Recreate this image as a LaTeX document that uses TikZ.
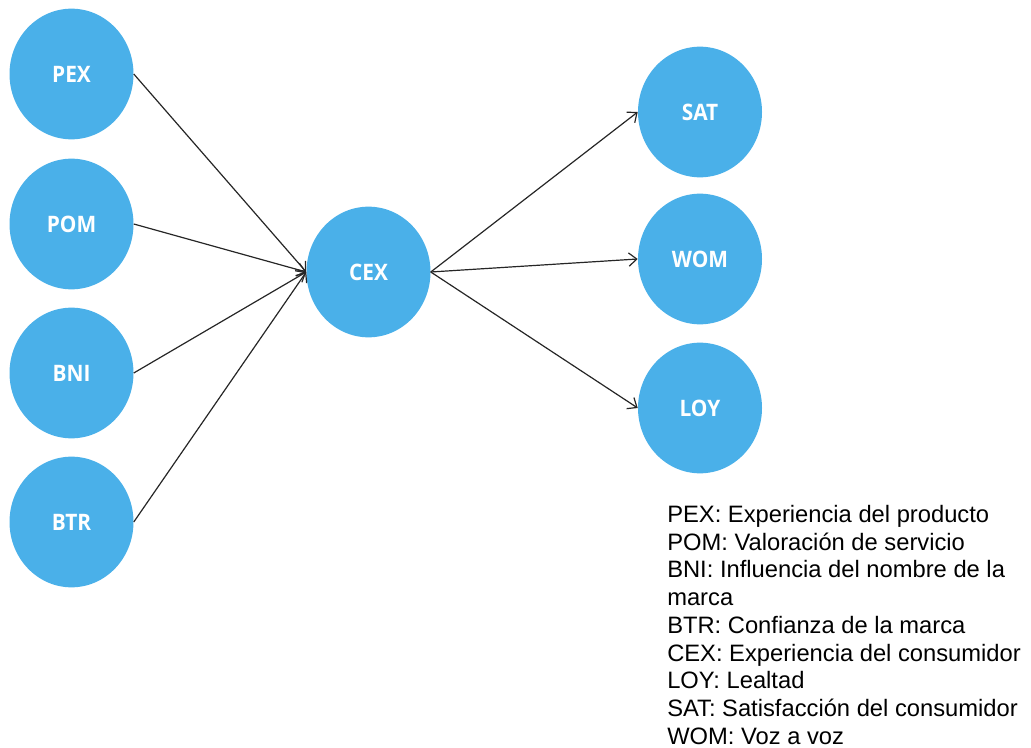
\documentclass[tikz,border=0pt]{standalone}
\usepackage{fontspec}
\setmainfont{Liberation Sans}
\newfontfamily\bubfont[FakeStretch=0.92]{Open Sans}
\usetikzlibrary{shapes.geometric,arrows.meta}
\definecolor{bubblue}{RGB}{74,176,233}
\begin{document}
\begin{tikzpicture}[x=0.75pt,y=-0.75pt,
  bubble/.style={ellipse,fill=bubblue,draw=none,minimum width=93pt,minimum height=98pt,inner sep=0pt,
    text=white,font=\bubfont\bfseries\fontsize{17pt}{20pt}\selectfont},
  link/.style={draw=black!85,line width=0.9pt,-{Straight Barb[length=6pt,width=10pt,line width=0.9pt]}}]
\useasboundingbox (0,0) rectangle (1031,748);
\node[bubble] (pex) at (71.5,74) {PEX};
\node[bubble] (pom) at (71.5,224) {POM};
\node[bubble] (bni) at (71.5,373) {BNI};
\node[bubble] (btr) at (71.5,522) {BTR};
\node[bubble] (cex) at (368.5,272) {CEX};
\node[bubble] (sat) at (700,112) {SAT};
\node[bubble] (wom) at (700,259) {WOM};
\node[bubble] (loy) at (700,408) {LOY};
\draw[link] (pex.east) -- (cex.west);
\draw[link] (pom.east) -- (cex.west);
\draw[link] (bni.east) -- (cex.west);
\draw[link] (btr.east) -- (cex.west);
\draw[link] (cex.east) -- (sat.west);
\draw[link] (cex.east) -- (wom.west);
\draw[link] (cex.east) -- (loy.west);
\node[anchor=north west,inner sep=0pt,align=left,font=\fontsize{17.8pt}{20.8pt}\selectfont] (legend) at (667,505)
{PEX: Experiencia del producto\\
POM: Valoración de servicio\\
BNI: Influencia del nombre de la\\
marca\\
BTR: Confianza de la marca\\
CEX: Experiencia del consumidor\\
LOY: Lealtad\\
SAT: Satisfacción del consumidor\\
WOM: Voz a voz};
\end{tikzpicture}
\end{document}
